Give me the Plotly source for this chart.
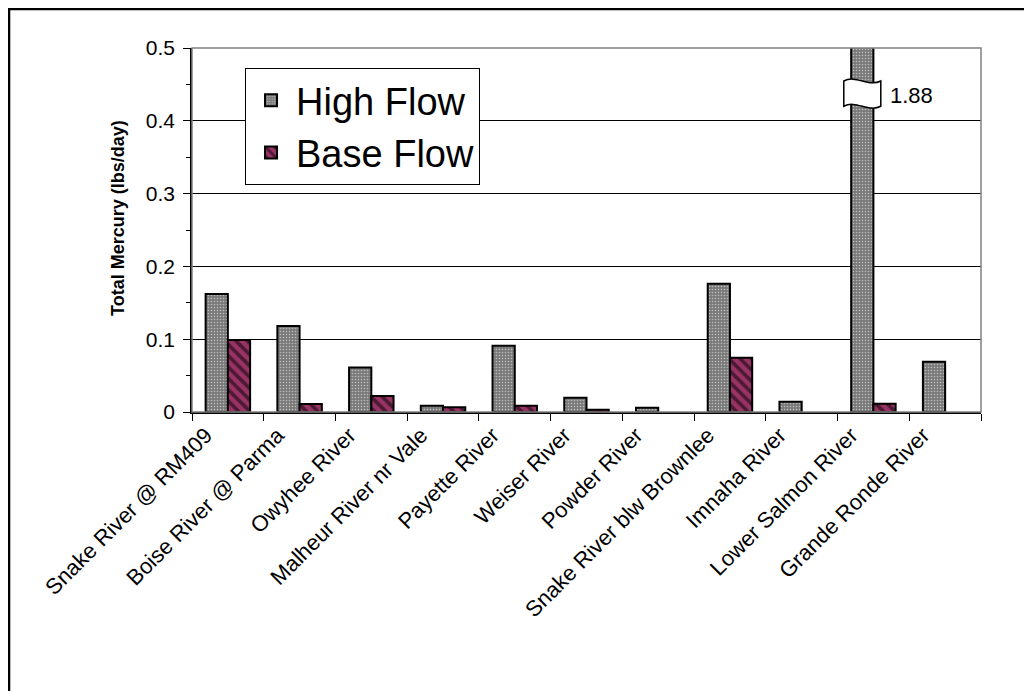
import plotly.graph_objects as go

categories = ["Snake River @ RM409", "Boise River @ Parma", "Owyhee River",
              "Malheur River nr Vale", "Payette River", "Weiser River",
              "Powder River", "Snake River blw Brownlee", "Imnaha River",
              "Lower Salmon River", "Grande Ronde River"]
high_flow = [0.162, 0.118, 0.061, 0.0087, 0.091, 0.0197, 0.006, 0.176, 0.014, 1.88, 0.069]
base_flow = [0.099, 0.011, 0.022, 0.0065, 0.0087, 0.003, None, 0.0746, None, 0.0114, None]
y_ticks = [0, 0.1, 0.2, 0.3, 0.4, 0.5]
break_label = "1.88"
break_index = 9
y_title = "<b>Total Mercury (lbs/day)</b>"

FONT = "Liberation Sans, Arial, sans-serif"
BARGAP = 0.38

fig = go.Figure()
fig.add_trace(go.Bar(
    name="High Flow", x=categories, y=high_flow,
    marker=dict(color="#7a7a7a", line=dict(color="black", width=2),
                pattern=dict(shape=".", fgcolor="#ffffff", bgcolor="#7a7a7a",
                             size=3, solidity=0.22)),
    hoverinfo="skip"))
fig.add_trace(go.Bar(
    name="Base Flow", x=categories, y=base_flow,
    marker=dict(color="#993366", line=dict(color="black", width=2),
                pattern=dict(shape="\\", fgcolor="#000000", bgcolor="#993366",
                             size=8, solidity=0.45)),
    hoverinfo="skip"))

# axis-break glyph on the clipped bar (category index units on x, data on y)
xc = break_index - (1 - BARGAP) / 4
hw = 0.258
x0, x1 = xc - hw, xc + hw
yt, yb, a = 0.4547, 0.420, 0.009
w = x1 - x0
path = (f"M{x0},{yt} C{x0 + w/3},{yt + a} {x0 + 2*w/3},{yt - a} {x1},{yt} "
        f"L{x1},{yb} C{x0 + 2*w/3},{yb - a} {x0 + w/3},{yb + a} {x0},{yb} Z")
fig.add_shape(type="path", path=path, xref="x", yref="y",
              fillcolor="white", line=dict(color="black", width=1.5), layer="above")
fig.add_annotation(x=x1 + 0.1, y=0.435, xref="x", yref="y", text=break_label,
                   showarrow=False, xanchor="left", yanchor="middle",
                   font=dict(size=22, color="black", family=FONT))

# y-axis title (placed as rotated text)
fig.add_annotation(x=-0.0938, y=0.533, xref="paper", yref="paper", text=y_title,
                   showarrow=False, textangle=-90, xanchor="center", yanchor="middle",
                   font=dict(size=18, color="black", family=FONT))

# plot-area frame (gray top/right)
fig.add_shape(type="rect", xref="paper", yref="paper", x0=0, x1=1, y0=0, y1=1,
              line=dict(color="#808080", width=1.5), layer="above")
# outer chart frame
fig.add_shape(type="rect", xref="paper", yref="paper", x0=-0.2319, x1=1.2,
              y0=-0.9, y1=1.107, line=dict(color="black", width=2.5), layer="above")

fig.update_layout(
    width=1032, height=691,
    margin=dict(l=184, r=59, t=40, b=287, autoexpand=False),
    paper_bgcolor="white", plot_bgcolor="white",
    barmode="group", bargap=BARGAP, bargroupgap=0,
    font=dict(family=FONT, color="black", size=21),
    showlegend=True,
    legend=dict(x=0.0672, y=0.945, xanchor="left", yanchor="top",
                bgcolor="white", bordercolor="black", borderwidth=1,
                font=dict(size=38, family=FONT, color="black"),
                tracegroupgap=0, itemwidth=40),
    xaxis=dict(type="category", tickson="boundaries", ticks="outside", ticklen=7,
               tickcolor="black", tickwidth=1, tickangle=-45,
               showline=True, linecolor="black", linewidth=1.5,
               showgrid=False, tickfont=dict(size=22), ticklabelshift=-22,
               automargin=False),
    yaxis=dict(range=[0, 0.5], tickvals=y_ticks, ticks="outside", ticklen=7,
               tickcolor="black", tickwidth=1,
               minor=dict(dtick=0.05, ticks="outside", ticklen=4, tickcolor="black",
                          showgrid=False),
               showline=True, linecolor="black", linewidth=1.5,
               showgrid=True, gridcolor="black", gridwidth=1,
               zeroline=False, tickfont=dict(size=21), ticklabelstandoff=4,
               automargin=False),
)

fig.write_html("out.html")
